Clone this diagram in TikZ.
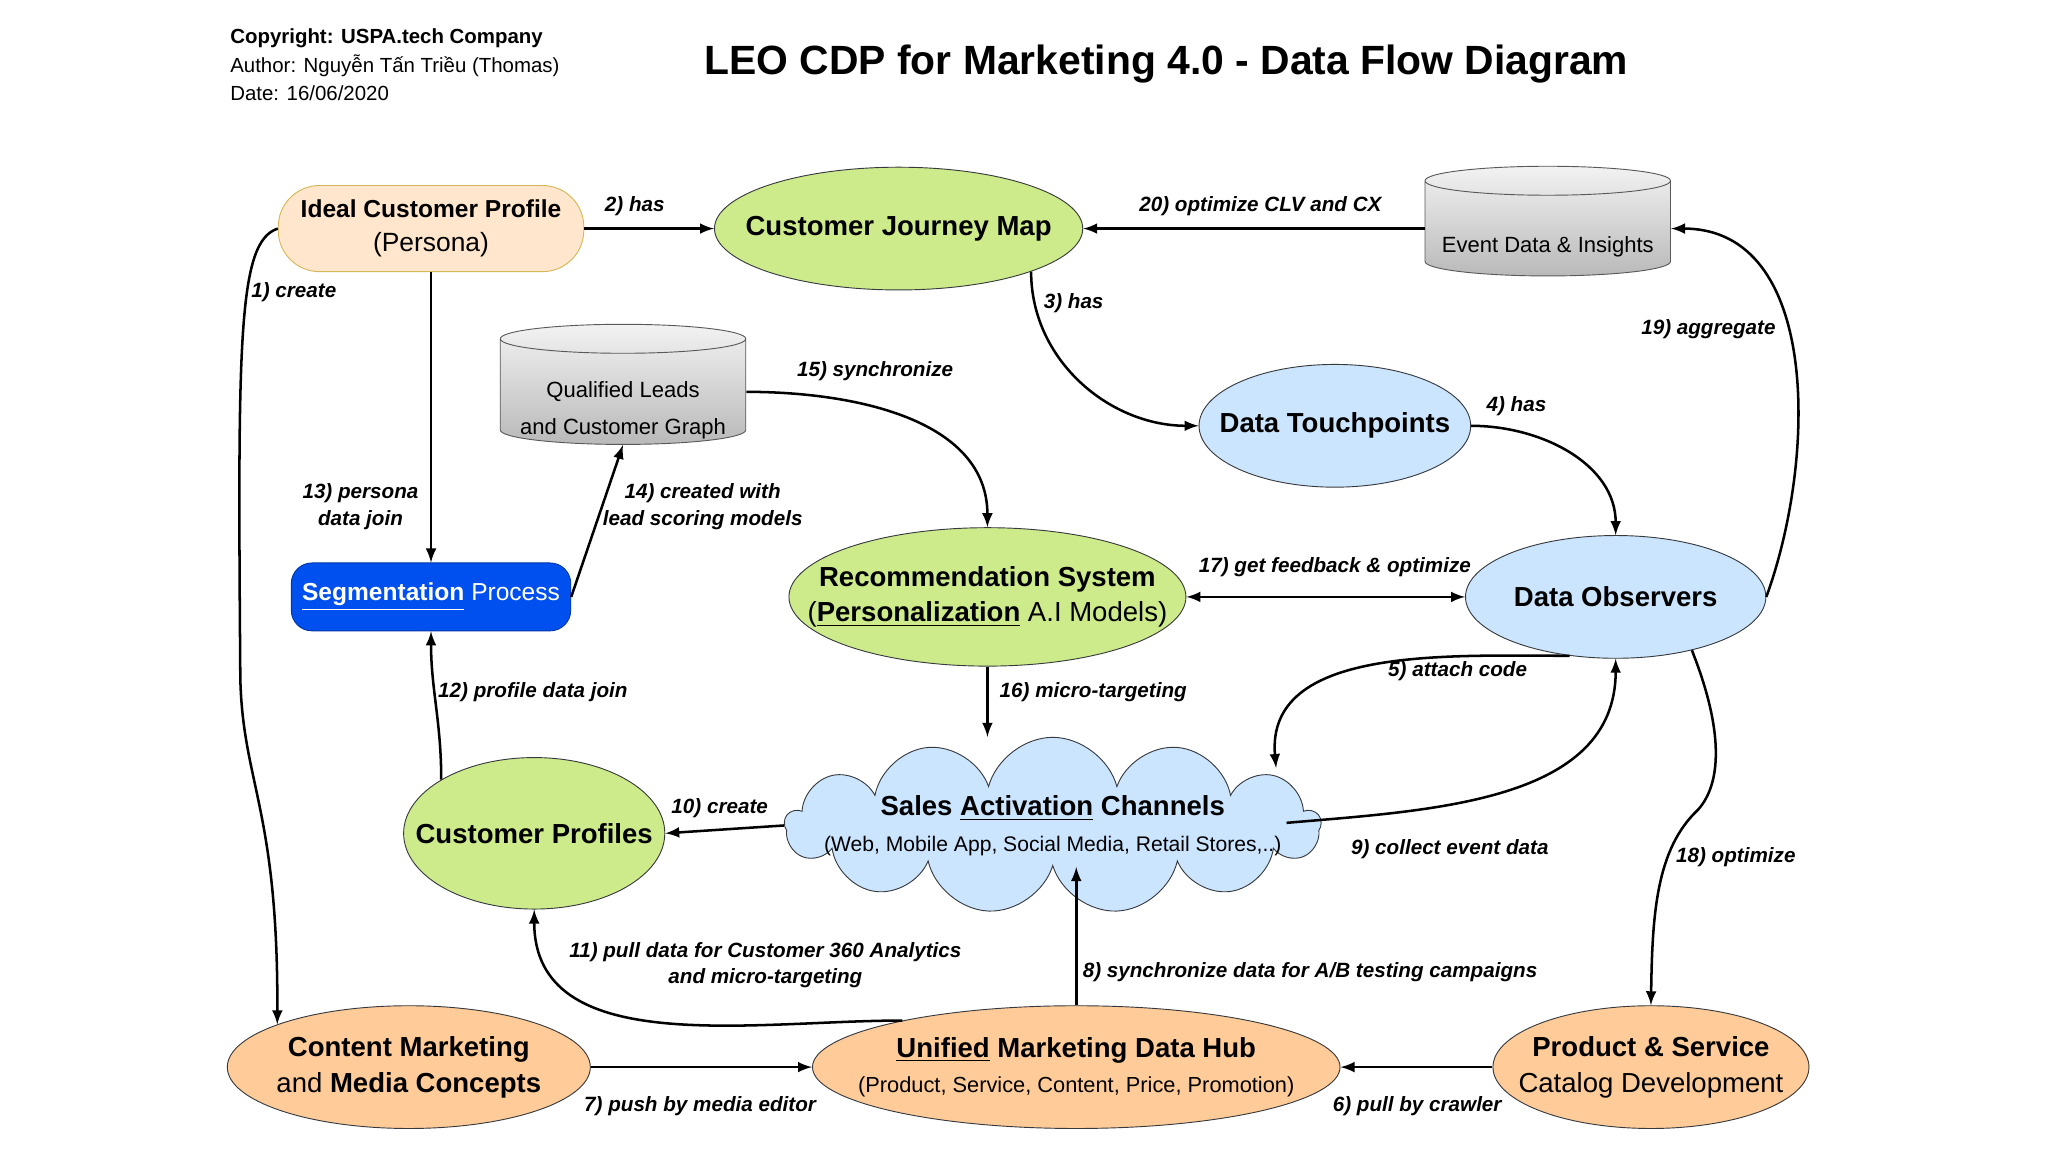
\documentclass[tikz,border=0pt]{standalone}
\usepackage{fontspec}
\setmainfont{Liberation Sans}
\usetikzlibrary{shapes.geometric,shapes.symbols,positioning}
\definecolor{peach}{HTML}{FFE6CC}
\definecolor{peachline}{HTML}{D6B656}
\definecolor{orangefill}{HTML}{FFCC99}
\definecolor{greenfill}{HTML}{CDEB8B}
\definecolor{bluefill}{HTML}{CCE5FF}
\definecolor{segblue}{HTML}{0050EF}
\definecolor{darkline}{HTML}{36393D}
\tikzset{
  nodefont/.style={font=\fontsize{12}{15.5}\selectfont},
  ell/.style={ellipse, draw=darkline, inner sep=0pt},
  txt/.style={label={[nodefont, align=center]center:{#1}}},
  green/.style={ell, fill=greenfill},
  blue/.style={ell, fill=bluefill},
  orange/.style={ell, fill=orangefill},
  db/.style={cylinder, shape border rotate=90, aspect=0.12, draw=gray!70!black,
    top color=gray!10, bottom color=gray!55, inner sep=0pt},
  dbtxt/.style={label={[font=\fontsize{9.6}{16}\selectfont, align=center, yshift=-0.28cm]center:{#1}}},
  flow/.style={-latex, line width=1.1pt},
  lbl/.style={font=\bfseries\itshape\fontsize{9}{11.5}\selectfont, align=center},
}
\begin{document}
\begin{tikzpicture}[x=0.02cm, y=-0.02cm]
\useasboundingbox (0,0) rectangle (1568,882);
% header
\node[anchor=west, inner sep=0pt, font=\bfseries\fontsize{8.9}{11}\selectfont] (copy) at (176,29) {Copyright: USPA.tech Company};
\node[anchor=west, inner sep=0pt, font=\fontsize{8.9}{11}\selectfont] (author) at (176,50) {Author: Nguyễn Tấn Triều (Thomas)};
\node[anchor=west, inner sep=0pt, font=\fontsize{8.9}{11}\selectfont] (date) at (176,71) {Date: 16/06/2020};
\node[font=\bfseries\fontsize{17.8}{20}\selectfont] (title) at (893,49) {LEO CDP for Marketing 4.0 - Data Flow Diagram};

% nodes
\node[rectangle, rounded corners=18pt, draw=peachline, fill=peach, minimum width=4.68cm, minimum height=1.32cm, label={[font=\fontsize{10.7}{15}\selectfont, align=center]center:{\textbf{Ideal Customer Profile}\\{\fontsize{11.5}{15}\selectfont(Persona)}}}] (icp) at (330,175) {};
\node[green, minimum width=5.64cm, minimum height=1.88cm, txt={\textbf{Customer Journey Map}}] (cjm) at (688,175) {};
\node[db, minimum width=3.76cm, minimum height=1.68cm, dbtxt={Event Data \& Insights}] (event) at (1185,175) {\hspace*{3.7cm}};
\node[db, minimum width=3.76cm, minimum height=1.84cm, dbtxt={Qualified Leads\\and Customer Graph}] (leads) at (477,300) {\hspace*{3.7cm}};
\node[blue, minimum width=4.16cm, minimum height=1.88cm, txt={\textbf{Data Touchpoints}}] (touch) at (1022,326) {};
\node[rectangle, rounded corners=9pt, draw=segblue!70!black, fill=segblue, minimum width=4.28cm, minimum height=1.04cm, label={[text=white, font=\fontsize{10.7}{14}\selectfont]center:{\textbf{\underline{Segmentation}} Process}}] (seg) at (330,457) {};
\node[green, minimum width=6.08cm, minimum height=2.12cm, txt={\textbf{Recommendation System}\\(\textbf{\underline{Personalization}} A.I Models)}] (rec) at (756,457) {};
\node[blue, minimum width=4.6cm, minimum height=1.88cm, txt={\textbf{Data Observers}}] (obs) at (1237,457) {};
\node[cloud, cloud puffs=13, aspect=3, draw=darkline, fill=bluefill, inner sep=0pt, minimum width=8.2cm, minimum height=2.7cm, txt={\textbf{Sales \underline{Activation} Channels}\\{\fontsize{9.2}{13}\selectfont(Web, Mobile App, Social Media, Retail Stores,..)}}] (sales) at (806,632) {};
\coordinate (salesin) at (977,588);
\coordinate (salesout) at (985,630);
\node[green, minimum width=4.0cm, minimum height=2.32cm, txt={\textbf{Customer Profiles}}] (prof) at (409,638) {};
\node[orange, minimum width=5.56cm, minimum height=1.88cm, txt={\textbf{Content Marketing}\\and \textbf{Media Concepts}}] (content) at (313,817) {};
\node[orange, minimum width=8.08cm, minimum height=1.88cm, txt={\textbf{\underline{Unified} Marketing Data Hub}\\{\fontsize{9.5}{13}\selectfont(Product, Service, Content, Price, Promotion)}}] (hub) at (824,817) {};
\node[orange, minimum width=4.84cm, minimum height=1.88cm, txt={\textbf{Product \& Service}\\Catalog Development}] (product) at (1264,817) {};

% connectors
\draw[flow] (icp.west) .. controls (182,185) and (182,260) .. (184,520) .. controls (186,600) and (213,620) .. (content.162);
\draw[flow] (icp) -- (cjm);
\draw[flow] (event) -- (cjm);
\draw[flow] (cjm.-18) to[out=-90, in=180] (touch.west);
\draw[flow] (touch.east) to[out=0, in=90] (obs.north);
\draw[flow] (obs.east) to[out=70, in=0] (event.east);
\draw[flow] (leads.east) to[out=0, in=90] (rec.north);
\draw[flow] (icp.south) -- (seg.north);
\draw[flow] (seg.east) -- (leads.south);
\draw[latex-latex, line width=1.1pt] (rec.east) -- (obs.west);
\draw[flow] (rec.south) -- (sales.north -| rec.south);
\draw[flow] (obs.-128) to[out=180, in=95] (salesin);
\draw[flow] (salesout) to[out=5, in=-90] (obs.south);
\draw[flow] (sales.west) -- (prof.east);
\draw[flow] (prof.150) to[out=90, in=-90] (seg.south);
\draw[flow] (hub.165) to[out=180, in=-90] (prof.south);
\draw[flow] (hub.north) -- (sales.south -| hub.north);
\draw[flow] (content) -- (hub);
\draw[flow] (product) -- (hub);
\draw[flow] (obs.-35) .. controls (1320,560) and (1318,600) .. (1300,620) .. controls (1268,650) and (1265,700) .. (product.north);

% labels
\node[lbl] (l1) at (225,224) {1) create};
\node[lbl] (l2) at (486,158) {2) has};
\node[lbl] (l3) at (822,232) {3) has};
\node[lbl] (l4) at (1161,311) {4) has};
\node[lbl] (l5) at (1116,514) {5) attach code};
\node[lbl] (l6) at (1085,847) {6) pull by crawler};
\node[lbl] (l7) at (536,847) {7) push by media editor};
\node[lbl] (l8) at (1003,744) {8) synchronize data for A/B testing campaigns};
\node[lbl] (l9) at (1110,650) {9) collect event data};
\node[lbl] (l10) at (551,619) {10) create};
\node[lbl] (l11) at (586,739) {11) pull data for Customer 360 Analytics\\and micro-targeting};
\node[lbl] (l12) at (408,530) {12) profile data join};
\node[lbl] (l13) at (276,388) {13) persona\\data join};
\node[lbl] (l14) at (538,388) {14) created with\\lead scoring models};
\node[lbl] (l15) at (670,284) {15) synchronize};
\node[lbl] (l16) at (837,530) {16) micro-targeting};
\node[lbl] (l17) at (1022,434) {17) get feedback \& optimize};
\node[lbl] (l18) at (1329,656) {18) optimize};
\node[lbl] (l19) at (1308,252) {19) aggregate};
\node[lbl] (l20) at (965,158) {20) optimize CLV and CX};
\end{tikzpicture}
\end{document}
